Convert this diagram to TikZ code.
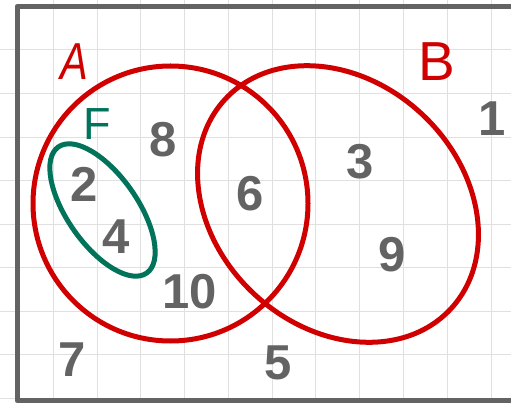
\documentclass[tikz,border=0pt]{standalone}
\usepackage{fontspec}
\setmainfont{Liberation Sans}
\definecolor{setred}{HTML}{D10000}
\definecolor{setgreen}{HTML}{00735A}
\definecolor{numgray}{HTML}{636363}
\definecolor{gridgray}{HTML}{E0E0E0}
\begin{document}
\begin{tikzpicture}[
    x=1pt, y=-1pt,
    num/.style={font=\fontsize{49}{49}\selectfont\bfseries, text=numgray, inner sep=0pt, anchor=center},
    setname/.style={inner sep=0pt, anchor=center},
    setline/.style={line width=5pt},
    gridline/.style={draw=gridgray, line width=1pt},
    frame/.style={draw=numgray, line width=5pt, line cap=round, line join=round}
]
\useasboundingbox[fill=white] (0,0) rectangle (511,403);

% Grid
\foreach \gx in {53.3,97.07,...,500}
    \draw[gridline] (\gx,0) -- (\gx,403);
\foreach \gy in {50,93.53,...,403}
    \draw[gridline] (0,\gy) -- (511,\gy);

% Frame
\draw[frame] (515,6.5) -- (17,6.5) -- (17,400.5) -- (515,400.5);

% Sets
\coordinate (cA) at (170.5,203.5);
\coordinate (cB) at (338,204);
\coordinate (cF) at (102.5,210);
\draw[setline, setred] (cA) circle[radius=137.5];
\draw[setline, setred, rotate around={-43:(cB)}] (cB) ellipse[x radius=154, y radius=123];
\draw[setline, setgreen, rotate around={-55:(cF)}] (cF) ellipse[x radius=77, y radius=35];

% Set names
\node[setname, text=setred, font=\fontsize{52}{52}\selectfont\itshape] (labA) at (74,61.5) {\scalebox{0.8}[1]{A}};
\node[setname, text=setred, font=\fontsize{55}{55}\selectfont] (labB) at (437,62) {B};
\node[setname, text=setgreen, font=\fontsize{45}{45}\selectfont] (labF) at (97.5,124) {F};

% Elements
\node[num] (n8) at (163,140) {8};
\node[num] (n2) at (84.5,184.5) {2};
\node[num] (n4) at (116,236.5) {4};
\node[num] (n6) at (250,193.5) {6};
\node[num] (n3) at (360,162) {3};
\node[num] (n9) at (392.5,255) {9};
\node[num] (n10) at (189.5,291.5) {10};
\node[num] (n1) at (492,119) {1};
\node[num] (n7) at (72,359.5) {7};
\node[num] (n5) at (278,362.5) {5};
\end{tikzpicture}
\end{document}
